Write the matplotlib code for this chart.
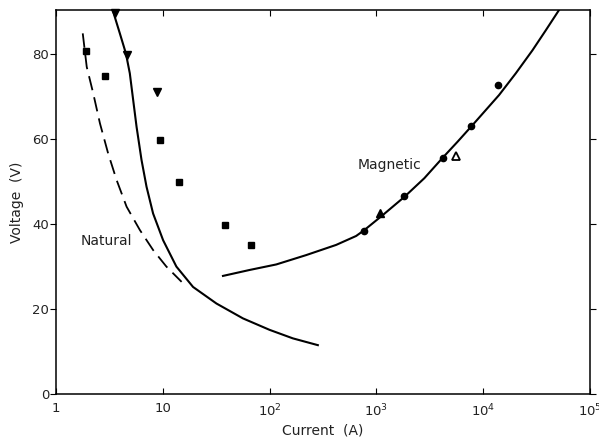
import numpy as np
import matplotlib
matplotlib.use('Agg')
import matplotlib.pyplot as plt
from matplotlib.ticker import FixedLocator, FixedFormatter, NullLocator

# ── data ──
sq_x = [1.9, 2.86, 9.5, 14.3, 38.4, 67]
sq_y = [80.7, 74.8, 59.8, 49.9, 39.8, 35.1]

tri_dn_x = [3.55, 4.6, 8.9]
tri_dn_y = [89.6, 79.8, 71.0]

circ_x = [770, 1817, 4160, 7640, 13700]
circ_y = [38.4, 46.7, 55.6, 63.2, 72.7]

tri_up_x = [1085]
tri_up_y = [42.5]

tri_open_x = [5610]
tri_open_y = [56.0]

# natural arc, solid curve
nat_x = [3.43, 3.96, 4.51, 4.91, 5.28, 5.68, 6.32, 7.04, 8.11, 10.07,
         13.4, 19.2, 31.8, 56.3, 100, 165, 283]
nat_y = [90.0, 84.9, 80.2, 75.5, 69.2, 62.9, 55.1, 48.8, 42.5, 36.2,
         30.0, 25.2, 21.3, 17.8, 15.1, 13.1, 11.5]

# natural arc, dashed curve
dash_x = [1.78, 1.94, 2.23, 2.58, 3.08, 3.69, 4.58, 6.10, 8.11, 10.8, 15.0]
dash_y = [84.9, 77.0, 70.8, 63.7, 56.6, 50.4, 44.1, 38.6, 33.9, 30.0, 26.4]

# magnetic arc
mag_x = [36.6, 65, 115.5, 220, 420, 646, 772, 1145, 1827, 2810, 4170,
         5760, 7940, 14100, 20200, 28900, 38500, 51300]
mag_y = [27.8, 29.2, 30.5, 32.7, 35.1, 37.2, 38.6, 42.1, 46.4, 50.8, 55.6,
         59.4, 63.3, 70.4, 75.5, 80.9, 85.6, 90.4]

xticks = [1, 10, 100, 1000, 1e4, 1e5]
xlabels = ['1', '10', '10$^2$', '10$^3$', '10$^4$', '10$^5$']
yticks = [0, 20, 40, 60, 80]

fig = plt.figure(figsize=(5.99, 4.40), dpi=100, facecolor='white')
ax = fig.add_axes([56/599, 46/440, (590-56)/599, (394-10)/440])

ax.set_xscale('log')
ax.set_xlim(1, 1e5)
ax.set_ylim(0, 90.4)

ax.plot(nat_x, nat_y, color='black', lw=1.5)
ax.plot(dash_x, dash_y, color='black', lw=1.3, dashes=(8, 4))
ax.plot(mag_x, mag_y, color='black', lw=1.5)

ax.plot(sq_x, sq_y, 's', color='black', ms=4.5, clip_on=False)
ax.plot(tri_dn_x, tri_dn_y, 'v', color='black', ms=5.5, clip_on=False)
ax.plot(circ_x, circ_y, 'o', color='black', ms=4.5)
ax.plot(tri_up_x, tri_up_y, '^', color='black', ms=5.5)
ax.plot(tri_open_x, tri_open_y, '^', color='black', ms=6, mfc='none', mew=1.3)

ax.text(1325, 54, 'Magnetic', fontsize=10, ha='center', va='center', color='#222222')
ax.text(2.97, 36.0, 'Natural', fontsize=10, ha='center', va='center', color='#222222')

ax.xaxis.set_major_locator(FixedLocator(xticks))
ax.xaxis.set_major_formatter(FixedFormatter(xlabels))
ax.xaxis.set_minor_locator(NullLocator())
ax.set_yticks(yticks)

ax.tick_params(axis='x', direction='in', top=True, length=4, labelsize=9.5, pad=6,
               labelcolor='#222222')
ax.tick_params(axis='y', direction='out', length=4, labelsize=9.5, pad=1,
               labelcolor='#222222')
ax.tick_params(axis='y', which='major', right=True)

for s in ax.spines.values():
    s.set_linewidth(1.1)

ax.set_xlabel('Current  (A)', fontsize=10, labelpad=3, color='#222222')
ax.set_ylabel('Voltage  (V)', fontsize=10, labelpad=6, color='#222222')

fig.savefig('out.png', dpi=100)
